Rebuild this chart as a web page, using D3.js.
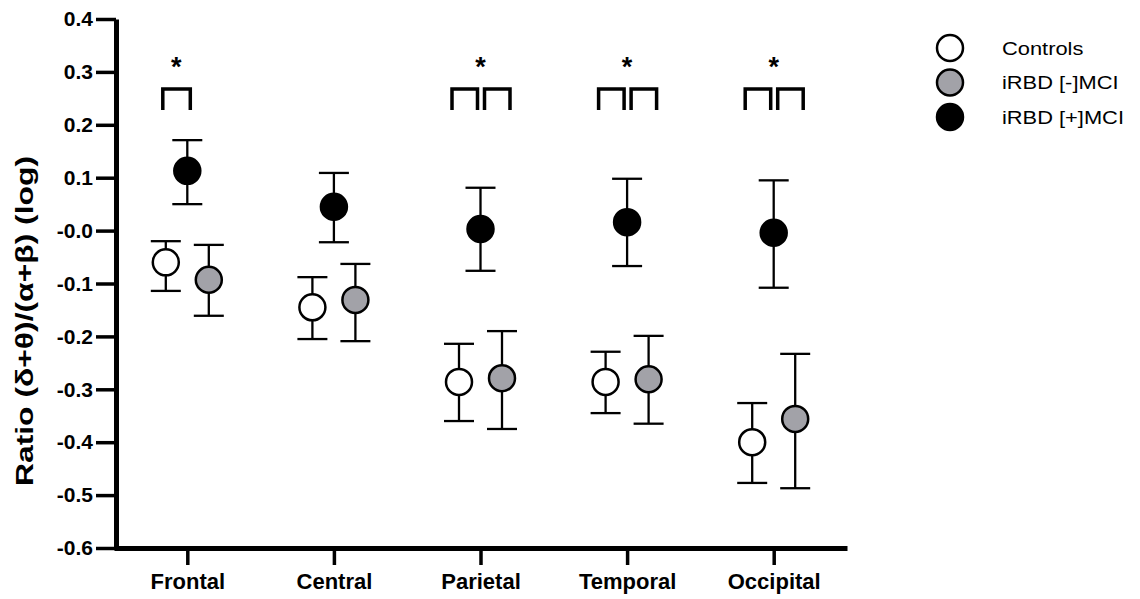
<!DOCTYPE html>
<html>
<head>
<meta charset="utf-8">
<script src="https://cdn.jsdelivr.net/npm/d3@7"></script>
<style>
  html, body { margin: 0; padding: 0; background: #ffffff; }
  #chart { width: 1140px; height: 599px; }
  text { font-family: Arial, "Liberation Sans", sans-serif; }
</style>
</head>
<body>
<div id="chart"></div>
<script>
// Regions and groups
const regions = ['Frontal', 'Central', 'Parietal', 'Temporal', 'Occipital'];
const groups = ['Controls', 'iRBD [-]MCI', 'iRBD [+]MCI'];

// Mean and error bar ends per group, one value per region
const controlsMean = [-0.060, -0.145, -0.286, -0.286, -0.400];
const controlsLow = [-0.114, -0.205, -0.360, -0.345, -0.477];
const controlsHigh = [-0.020, -0.088, -0.214, -0.229, -0.326];

const noMciMean = [-0.093, -0.131, -0.279, -0.281, -0.356];
const noMciLow = [-0.161, -0.209, -0.375, -0.365, -0.487];
const noMciHigh = [-0.027, -0.063, -0.190, -0.199, -0.233];

const mciMean = [0.113, 0.045, 0.003, 0.016, -0.004];
const mciLow = [0.050, -0.022, -0.076, -0.067, -0.108];
const mciHigh = [0.171, 0.109, 0.081, 0.098, 0.095];

// Y axis ticks and their printed labels
const yTicks = [0.4, 0.3, 0.2, 0.1, 0, -0.1, -0.2, -0.3, -0.4, -0.5, -0.6];
const yTickLabels = ['0.4', '0.3', '0.2', '0.1', '-0.0', '-0.1', '-0.2', '-0.3', '-0.4', '-0.5', '-0.6'];

// Significance brackets: which region, which pair of groups
const sigBrackets = [
  { region: 'Frontal', pairs: [['Controls', 'iRBD [+]MCI']] },
  { region: 'Parietal', pairs: [['Controls', 'iRBD [+]MCI'], ['iRBD [+]MCI', 'iRBD [-]MCI']] },
  { region: 'Temporal', pairs: [['Controls', 'iRBD [+]MCI'], ['iRBD [+]MCI', 'iRBD [-]MCI']] },
  { region: 'Occipital', pairs: [['Controls', 'iRBD [+]MCI'], ['iRBD [+]MCI', 'iRBD [-]MCI']] }
];

const groupFill = { 'Controls': '#ffffff', 'iRBD [-]MCI': '#a2a2a8', 'iRBD [+]MCI': '#000000' };
const seriesMeans = [controlsMean, noMciMean, mciMean];
const seriesLows = [controlsLow, noMciLow, mciLow];
const seriesHighs = [controlsHigh, noMciHigh, mciHigh];

const width = 1140;
const height = 599;
const plot = { left: 116, right: 847, top: 19, bottom: 548 };

const svg = d3.select('#chart')
  .append('svg')
  .attr('width', width)
  .attr('height', height);

// Scales
const x = d3.scalePoint()
  .domain(regions)
  .range([114, plot.right])
  .padding(0.5);

// order within a region: Controls left, [+]MCI middle, [-]MCI right
const dodge = d3.scalePoint()
  .domain(['Controls', 'iRBD [+]MCI', 'iRBD [-]MCI'])
  .range([-21.5, 21.5]);

const y = d3.scaleLinear()
  .domain([-0.6, 0.4])
  .range([plot.bottom, plot.top]);

// Flatten into points
const points = [];
groups.forEach((g, gi) => {
  regions.forEach((r, ri) => {
    points.push({ group: g, region: r, mean: seriesMeans[gi][ri], low: seriesLows[gi][ri], high: seriesHighs[gi][ri] });
  });
});

// Y axis
const yAxis = d3.axisLeft(y)
  .tickValues(yTicks)
  .tickFormat((d, i) => yTickLabels[i])
  .tickSize(20)
  .tickSizeOuter(0)
  .tickPadding(3);

const yAxisGroup = svg.append('g')
  .attr('transform', `translate(${plot.left},0)`)
  .call(yAxis);

yAxisGroup.select('.domain')
  .attr('stroke', '#000')
  .attr('stroke-width', 5);
yAxisGroup.selectAll('.tick line')
  .attr('stroke', '#000')
  .attr('stroke-width', 3.5);
yAxisGroup.selectAll('.tick text')
  .attr('fill', '#000')
  .attr('font-size', '21px')
  .attr('font-weight', 'bold');

// X axis
const xAxis = d3.axisBottom(x)
  .tickSize(17)
  .tickSizeOuter(0)
  .tickPadding(8);

const xAxisGroup = svg.append('g')
  .attr('transform', `translate(0,${plot.bottom})`)
  .call(xAxis);

xAxisGroup.select('.domain')
  .attr('stroke', '#000')
  .attr('stroke-width', 5);
xAxisGroup.selectAll('.tick line')
  .attr('stroke', '#000')
  .attr('stroke-width', 3.5);
xAxisGroup.selectAll('.tick text')
  .attr('fill', '#000')
  .attr('font-size', '22px')
  .attr('font-weight', 'bold');

// Y axis title
svg.append('text')
  .attr('transform', `translate(33,${(147 + 495) / 2}) rotate(-90)`)
  .attr('text-anchor', 'middle')
  .attr('font-size', '23px')
  .attr('font-weight', 'bold')
  .attr('fill', '#000')
  .attr('textLength', 330)
  .attr('lengthAdjust', 'spacingAndGlyphs')
  .text('Ratio (δ+θ)/(α+β) (log)');

// Error bars
const capHalf = 15;
const bars = svg.append('g').attr('class', 'error-bars')
  .selectAll('g')
  .data(points)
  .join('g')
  .attr('stroke', '#000')
  .attr('stroke-width', 2.3);

bars.append('line')
  .attr('x1', d => x(d.region) + dodge(d.group))
  .attr('x2', d => x(d.region) + dodge(d.group))
  .attr('y1', d => y(d.low))
  .attr('y2', d => y(d.high));
bars.append('line')
  .attr('x1', d => x(d.region) + dodge(d.group) - capHalf)
  .attr('x2', d => x(d.region) + dodge(d.group) + capHalf)
  .attr('y1', d => y(d.high))
  .attr('y2', d => y(d.high));
bars.append('line')
  .attr('x1', d => x(d.region) + dodge(d.group) - capHalf)
  .attr('x2', d => x(d.region) + dodge(d.group) + capHalf)
  .attr('y1', d => y(d.low))
  .attr('y2', d => y(d.low));

// Mean markers
svg.append('g').attr('class', 'markers')
  .selectAll('circle')
  .data(points)
  .join('circle')
  .attr('cx', d => x(d.region) + dodge(d.group))
  .attr('cy', d => y(d.mean))
  .attr('r', 13)
  .attr('fill', d => groupFill[d.group])
  .attr('stroke', '#000')
  .attr('stroke-width', 2.5);

// Significance brackets and asterisks
const bracketTop = 89;
const bracketBottom = 110;
const sig = svg.append('g').attr('class', 'significance');
sigBrackets.forEach(s => {
  const cx = x(s.region);
  const single = s.pairs.length === 1;
  s.pairs.forEach(([a, b]) => {
    const xa = cx + dodge(a);
    const xb = cx + dodge(b);
    // left bracket spans Controls→[+]MCI, right one [+]MCI→[-]MCI, with a small gap
    const x1 = dodge(a) < 0 ? xa - (single ? 3 : 7) : xa + 4;
    const x2 = dodge(b) > 0 ? xb + 8 : xb - (single ? -3 : 3);
    sig.append('path')
      .attr('d', `M${x1},${bracketBottom}V${bracketTop}H${x2}V${bracketBottom}`)
      .attr('fill', 'none')
      .attr('stroke', '#000')
      .attr('stroke-width', 3.5);
  });
  sig.append('text')
    .attr('x', single ? cx - 11 : cx)
    .attr('y', 76)
    .attr('text-anchor', 'middle')
    .attr('font-size', '27px')
    .attr('font-weight', 'bold')
    .attr('fill', '#000')
    .text('*');
});

// Legend
const legendScaleX = 1.15;
const legend = svg.append('g').attr('class', 'legend')
  .selectAll('g')
  .data(groups)
  .join('g')
  .attr('transform', (d, i) => `translate(950,${48 + i * 34.5})`);

legend.append('circle')
  .attr('r', 13)
  .attr('fill', d => groupFill[d])
  .attr('stroke', '#000')
  .attr('stroke-width', 2.5);

legend.append('text')
  .attr('x', 52 / legendScaleX)
  .attr('dy', '0.35em')
  .attr('font-size', '19px')
  .attr('fill', '#000')
  .attr('transform', `scale(${legendScaleX},1)`)
  .text(d => d);
</script>
</body>
</html>
